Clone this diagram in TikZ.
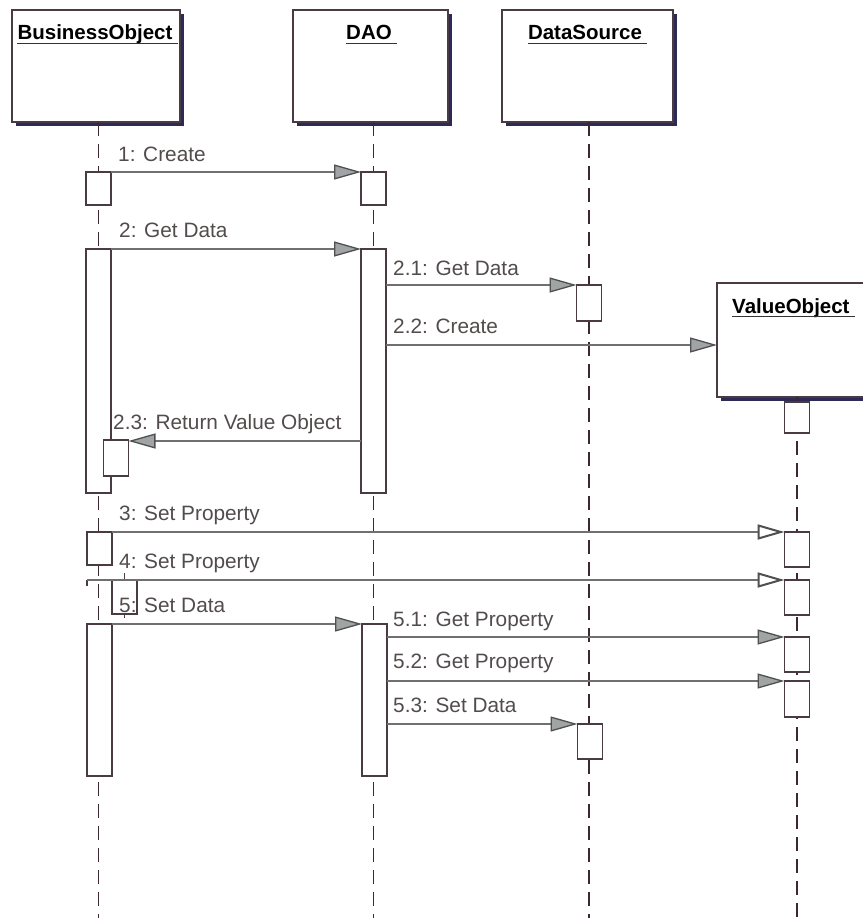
\documentclass[tikz,border=0pt]{standalone}
\usepackage{fontspec}
\setmainfont{Liberation Sans}
\usetikzlibrary{arrows.meta,shadows}
\definecolor{boxline}{HTML}{4A3A44}
\definecolor{shadowc}{HTML}{2B2B55}
\definecolor{msgc}{HTML}{707070}
\definecolor{labc}{HTML}{524C4C}
\definecolor{lifec}{HTML}{3E2830}
\definecolor{arrfill}{HTML}{A0A4A4}
\definecolor{arrline}{HTML}{505050}
\begin{document}
\begin{tikzpicture}[x=1pt,y=-1pt,
  objbox/.style={draw=boxline, line width=1.2pt, fill=white, inner sep=0pt, outer sep=0pt,
    drop shadow={shadow xshift=4pt, shadow yshift=-4pt, fill=shadowc, opacity=1}},
  objtitle/.style={font=\fontsize{20.5}{24}\selectfont\bfseries, text=black, inner sep=0pt},
  uline/.style={draw=black!80, line width=1.8pt},
  lifeline/.style={draw=lifec, line width=1.7pt, dash pattern=on 14pt off 8pt},
  act/.style={draw=boxline, line width=1.4pt, fill=white, minimum width=25pt, inner sep=0pt, outer sep=0pt, anchor=north},
  msg/.style={draw=msgc, line width=1.5pt, -{Triangle[length=27pt,width=15pt,fill=arrfill,color=arrline,line width=1.3pt]}},
  msgopen/.style={draw=msgc, line width=1.5pt, -{Triangle[length=27pt,width=15pt,fill=white,color=arrline,line width=2pt]}},
  lab/.style={font=\fontsize{20.8}{24}\selectfont, text=labc, anchor=base west, inner sep=0pt}
]
\useasboundingbox (0,0) rectangle (862,920);
\fill[white] (0,0) rectangle (862,920);

% object boxes
\node[objbox, minimum width=168pt, minimum height=112pt, anchor=north west] (BO) at (12,10) {};
\node[objbox, minimum width=155pt, minimum height=112pt, anchor=north west] (DAO) at (293,10) {};
\node[objbox, minimum width=171pt, minimum height=112pt, anchor=north west] (DS) at (502,10) {};
\node[objbox, minimum width=160pt, minimum height=114pt, anchor=north west] (VO) at (717,283) {};

\node[objtitle, anchor=base] (BOt) at (95,40) {BusinessObject};
\node[objtitle, anchor=base] (DAOt) at (369,40) {DAO};
\node[objtitle, anchor=base] (DSt) at (585,40) {DataSource};
\node[objtitle, anchor=base west] (VOt) at (732,313) {ValueObject};
\foreach \t in {BOt,DAOt,DSt,VOt}
  \draw[uline] ([yshift=-3.5pt]\t.base west) -- ([xshift=5pt,yshift=-3.5pt]\t.base east);

% lifelines
\coordinate (BOend) at (98.5,918);
\coordinate (DAOend) at (373.5,918);
\coordinate (DSend) at (589,918);
\coordinate (VOend) at (797,918);
\draw[lifeline] (BO.south -| BOend) -- (BOend);
\draw[lifeline] (DAO.south -| DAOend) -- (DAOend);
\draw[lifeline] (DS.south -| DSend) -- (DSend);
\draw[lifeline] (VO.south -| VOend) -- (VOend);

% activations
\node[act, minimum height=33pt] (bo1) at (98.5,172) {};
\node[act, minimum height=33pt] (dao1) at (373.5,172) {};
\node[act, minimum height=244pt] (bo2) at (98.5,249) {};
\node[act, minimum height=244pt] (dao2) at (373.5,249) {};
\node[act, minimum height=36pt] (ds1) at (589,285) {};
\node[act, minimum height=31pt] (vo0) at (797,402) {};
\node[act, minimum height=36pt] (bo23) at (116,440) {};
\node[act, minimum height=33pt] (bo3) at (99.5,532) {};
\node[act, minimum height=35pt] (vo1) at (797,532) {};
\node[act, minimum height=34pt] (bo4) at (124.5,580) {};
\node[act, minimum height=35pt] (vo2) at (797,580) {};
\node[act, minimum height=152pt] (bo5) at (99.5,624) {};
\node[act, minimum height=152pt] (dao3) at (374.5,624) {};
\node[act, minimum height=35pt] (vo3) at (797,637) {};
\node[act, minimum height=36pt] (vo4) at (797,681) {};
\node[act, minimum height=35pt] (ds2) at (590,724) {};

% small marks around message 4
\coordinate (m4start) at (87,580);
\draw[draw=boxline, line width=1.2pt] (87,586) -- (m4start);
\draw[draw=boxline, line width=1.2pt] (bo4.north) -- ++(0,-7);
\draw[draw=boxline, line width=1.2pt] (bo4.south) -- ++(0,4);

% messages
\draw[msg] (bo1.north east) -- (dao1.north west);
\node[lab] (l1) at (118,162) {1: Create};
\draw[msg] (bo2.north east) -- (dao2.north west);
\node[lab] (l2) at (119,237) {2: Get Data};
\draw[msg] (dao2.east |- ds1.north) -- (ds1.north west);
\node[lab] (l21) at (393,275) {2.1: Get Data};
\draw[msg] (dao2.east |- 0,345) -- (VO.west |- 0,345);
\node[lab] (l22) at (393,333) {2.2: Create};
\draw[msg] (dao2.west |- 0,441) -- (bo23.east |- 0,441);
\node[lab] (l23) at (113,429) {2.3: Return Value Object};
\draw[msgopen] (bo3.north east) -- (vo1.north west);
\node[lab] (l3) at (119,520) {3: Set Property};
\draw[msgopen] (m4start) -- (vo2.north west);
\node[lab] (l4) at (119,568) {4: Set Property};
\draw[msg] (bo5.north east) -- (dao3.north west);
\node[lab] (l5) at (119,612) {5: Set Data};
\draw[msg] (dao3.east |- vo3.north) -- (vo3.north west);
\node[lab] (l51) at (393,626) {5.1: Get Property};
\draw[msg] (dao3.east |- vo4.north) -- (vo4.north west);
\node[lab] (l52) at (393,668) {5.2: Get Property};
\draw[msg] (dao3.east |- ds2.north) -- (ds2.north west);
\node[lab] (l53) at (393,712) {5.3: Set Data};
\end{tikzpicture}
\end{document}
